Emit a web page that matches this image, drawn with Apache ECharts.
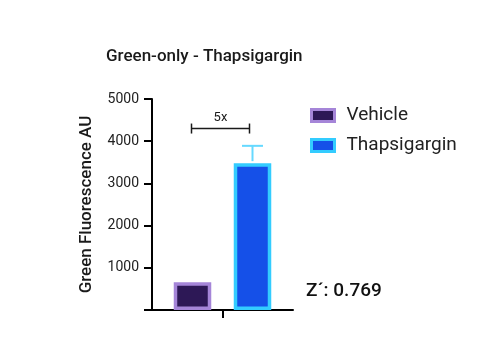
<!DOCTYPE html>
<html>
<head>
<meta charset="utf-8">
<script src="https://cdn.jsdelivr.net/npm/echarts@6/dist/echarts.min.js"></script>
<style>
html,body{margin:0;padding:0;background:#fff;}
#chart{width:500px;height:353px;}
</style>
</head>
<body>
<div id="chart"></div>
<script>
// ---- data ----
const chartTitle = 'Green-only - Thapsigargin';
const categories = ['Green-only'];
const seriesNames = ['Vehicle', 'Thapsigargin'];
const vehicleValues = [655];
const thapsigarginValues = [3480];
const thapsigarginErrorUpper = [3890];
const yTicks = [0, 1000, 2000, 3000, 4000, 5000];
const foldChangeLabel = '5x';
const foldChangeLevel = [4300];
const zPrimeLabel = 'Z\u00B4: 0.769';

const FONT = 'Roboto';
const barOffset = 30;

const chart = echarts.init(document.getElementById('chart'));

const option = {
  animation: false,
  backgroundColor: '#ffffff',
  title: {
    text: chartTitle,
    left: 106,
    top: 48,
    padding: 0,
    textStyle: { fontFamily: FONT, fontSize: 17, fontWeight: 500, color: '#1a1a1a' }
  },
  legend: {
    orient: 'vertical',
    left: 310,
    top: 106,
    padding: 0,
    itemWidth: 23,
    itemHeight: 12,
    itemGap: 11,
    textStyle: { fontFamily: FONT, fontSize: 19, color: '#222', lineHeight: 19, padding: [0, 0, 0, 7] },
    data: [
      { name: seriesNames[0], icon: 'rect', itemStyle: { color: '#2d1856', borderColor: '#a585d8', borderWidth: 3 } },
      { name: seriesNames[1], icon: 'rect', itemStyle: { color: '#1550e8', borderColor: '#33ccff', borderWidth: 3 } }
    ]
  },
  grid: { left: 152, right: 207, top: 99, bottom: 43, containLabel: false },
  xAxis: {
    type: 'category',
    data: categories,
    axisLine: { lineStyle: { color: '#000', width: 2 } },
    axisTick: { show: true, alignWithLabel: true, length: 8, lineStyle: { color: '#000', width: 2 } },
    axisLabel: { show: false }
  },
  yAxis: {
    type: 'value',
    min: yTicks[0],
    max: yTicks[yTicks.length - 1],
    interval: 1000,
    name: 'Green Fluorescence AU',
    nameLocation: 'middle',
    nameGap: 57,
    nameTextStyle: { fontFamily: FONT, fontSize: 17, fontWeight: 500, color: '#1a1a1a' },
    splitLine: { show: false },
    axisLine: { show: true, lineStyle: { color: '#000', width: 2 } },
    axisTick: { show: true, length: 8, lineStyle: { color: '#000', width: 2 } },
    axisLabel: {
      margin: 13,
      fontFamily: FONT, fontSize: 14, color: '#222',
      formatter: v => (v === 0 ? '' : String(v))
    }
  },
  series: [
    {
      name: seriesNames[0],
      type: 'bar',
      data: vehicleValues,
      barWidth: 37.5,
      barGap: '60%',
      itemStyle: { color: '#2d1856', borderColor: '#a585d8', borderWidth: 3.5 },
      z: 1
    },
    {
      name: seriesNames[1],
      type: 'bar',
      data: thapsigarginValues,
      barWidth: 37.5,
      barGap: '60%',
      itemStyle: { color: '#1550e8', borderColor: '#33ccff', borderWidth: 3.5 },
      z: 1
    },
    {
      name: 'errorbar',
      type: 'custom',
      data: thapsigarginValues.map((v, i) => [i, v, thapsigarginErrorUpper[i]]),
      z: 3,
      renderItem: function (params, api) {
        const base = api.coord([api.value(0), api.value(1)]);
        const top = api.coord([api.value(0), api.value(2)]);
        const x = base[0] + barOffset;
        const style = { stroke: '#66d9ff', lineWidth: 2 };
        return {
          type: 'group',
          children: [
            { type: 'line', shape: { x1: x, y1: base[1] - 2, x2: x, y2: top[1] }, style: style },
            { type: 'line', shape: { x1: x - 10.5, y1: top[1], x2: x + 10.5, y2: top[1] }, style: style }
          ]
        };
      }
    },
    {
      name: 'bracket',
      type: 'custom',
      data: foldChangeLevel.map((v, i) => [i, v]),
      z: 3,
      renderItem: function (params, api) {
        const p = api.coord([api.value(0), api.value(1)]);
        const x1 = p[0] - 31, x2 = p[0] + 27, y = p[1];
        const style = { stroke: '#1a1a1a', lineWidth: 1.5 };
        return {
          type: 'group',
          children: [
            { type: 'line', shape: { x1: x1, y1: y, x2: x2, y2: y }, style: style },
            { type: 'line', shape: { x1: x1, y1: y - 5, x2: x1, y2: y + 5 }, style: style },
            { type: 'line', shape: { x1: x2, y1: y - 5, x2: x2, y2: y + 5 }, style: style },
            { type: 'text', style: { text: foldChangeLabel, x: (x1 + x2) / 2, y: y - 11, align: 'center', verticalAlign: 'middle', fontFamily: FONT, fontSize: 13, fill: '#1a1a1a' } }
          ]
        };
      }
    }
  ],
  graphic: [
    {
      type: 'text',
      left: 306,
      top: 282,
      style: { text: zPrimeLabel, fontFamily: FONT, fontSize: 19, fontWeight: 500, fill: '#111' }
    }
  ]
};

chart.setOption(option);
</script>
</body>
</html>
